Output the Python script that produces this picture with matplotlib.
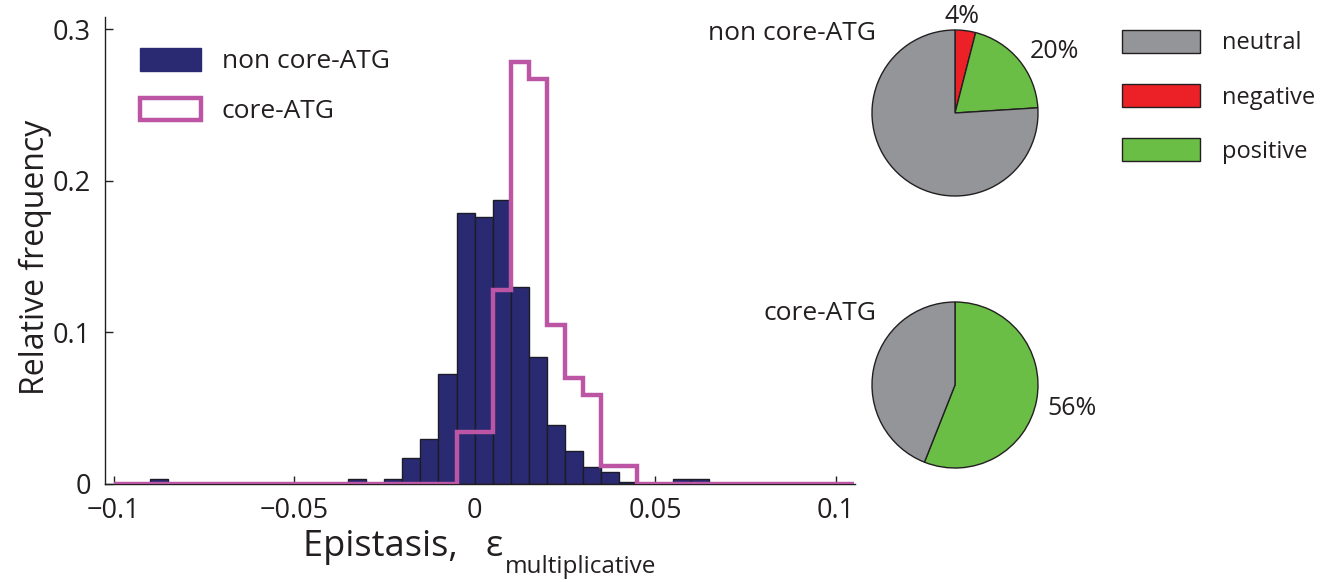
import numpy as np
import matplotlib
matplotlib.use("Agg")
import matplotlib.pyplot as plt
from matplotlib.patches import Patch

plt.rcParams['font.family'] = ['Open Sans', 'DejaVu Sans']

# ---------------- data ----------------
bin_width = 0.005
hist_range = (-0.1, 0.105)

# non core-ATG histogram: bin left edges and relative frequency
noncore_bin_left = [-0.090, -0.035, -0.025, -0.020, -0.015, -0.010, -0.005, 0.000,
                    0.005, 0.010, 0.015, 0.020, 0.025, 0.030, 0.035, 0.040,
                    0.055, 0.060]
noncore_freq = [0.003, 0.003, 0.003, 0.017, 0.030, 0.0725, 0.179, 0.176,
                0.187, 0.130, 0.084, 0.039, 0.022, 0.011, 0.008, 0.0015,
                0.003, 0.003]

# core-ATG histogram (outline): bin left edges and relative frequency
core_bin_left = [-0.005, 0.000, 0.005, 0.010, 0.015, 0.020, 0.025, 0.030, 0.035, 0.040]
core_freq = [0.034, 0.034, 0.128, 0.278, 0.267, 0.105, 0.070, 0.059, 0.012, 0.012]

xticks = [-0.1, -0.05, 0, 0.05, 0.1]
xtick_labels = ['\u22120.1', '\u22120.05', '0', '0.05', '0.1']
yticks = [0, 0.1, 0.2, 0.3]
ytick_labels = ['0', '0.1', '0.2', '0.3']

pie_categories = ['neutral', 'negative', 'positive']
pie_noncore = {'neutral': 76, 'negative': 4, 'positive': 20}
pie_core = {'neutral': 44, 'negative': 0, 'positive': 56}
pie_colors = {'neutral': '#939598', 'negative': '#ec2127', 'positive': '#6abd45'}

navy = '#2a2a72'
magenta = '#bd55a5'
ink = '#231f20'

# ---------------- figure ----------------
W, H = 1332, 582
fig = plt.figure(figsize=(W / 100, H / 100), dpi=100)

def px_axes(x0, y0, x1, y1):
    return fig.add_axes([x0 / W, 1 - y1 / H, (x1 - x0) / W, (y1 - y0) / H])

AX = (105, 17, 855, 484)
ax = px_axes(*AX)

def ax_frac(px, py):
    return ((px - AX[0]) / (AX[2] - AX[0]), (AX[3] - py) / (AX[3] - AX[1]))

# full stairs array over the whole range
edges = np.round(np.arange(hist_range[0], hist_range[1] + 1e-9, bin_width), 4)
core_full = np.zeros(len(edges) - 1)
for left, v in zip(core_bin_left, core_freq):
    idx = int(round((left - hist_range[0]) / bin_width))
    core_full[idx] = v

ax.bar(noncore_bin_left, noncore_freq, width=bin_width, align='edge',
       color=navy, edgecolor='#1c1c28', linewidth=1.0, zorder=2)
ax.stairs(core_full, edges, baseline=None, color=magenta, linewidth=3.2, zorder=3)

ax.set_xlim(-0.1024, 0.1054)
ax.set_ylim(0, 0.308)
ax.set_xticks(xticks)
ax.set_xticklabels(xtick_labels)
ax.set_yticks(yticks)
ax.set_yticklabels(ytick_labels)
ax.tick_params(direction='in', length=6, width=1, labelsize=19.5, colors=ink)
ax.tick_params(axis='x', pad=9)
ax.tick_params(axis='y', pad=10)
for s in ['top', 'right']:
    ax.spines[s].set_visible(False)
for s in ['left', 'bottom']:
    ax.spines[s].set_linewidth(1.0)
    ax.spines[s].set_color(ink)

ax.set_ylabel('Relative frequency', fontsize=23, color=ink)
ax.yaxis.set_label_coords(*ax_frac(52, 257))

lx, ly = ax_frac(303, 556)
t1 = ax.text(lx, ly, 'Epistasis,   \u03b5', transform=ax.transAxes,
             fontsize=26, color=ink, ha='left', va='baseline')
ax.annotate('multiplicative', xy=(1, 0), xycoords=t1, xytext=(1, -6),
            textcoords='offset points', fontsize=17.5, color=ink,
            ha='left', va='baseline')

leg = ax.legend(handles=[Patch(facecolor=navy, edgecolor=navy, label='non core-ATG'),
                         Patch(facecolor='white', edgecolor=magenta, linewidth=3.2,
                               label='core-ATG')],
                loc='upper left', bbox_to_anchor=ax_frac(140, 48), frameon=False,
                borderaxespad=0, borderpad=0,
                fontsize=19, handlelength=2.3, handleheight=0.95,
                handletextpad=0.8, labelspacing=0.88)
for t in leg.get_texts():
    t.set_color(ink)

# ---------------- pies ----------------
pie_order = ['negative', 'positive', 'neutral']

def draw_pie(box, data, title, title_xy):
    pax = px_axes(*box)
    cats = [c for c in pie_order if data[c] > 0]
    vals = [data[c] for c in cats]
    cols = [pie_colors[c] for c in cats]
    labels = ['' if c == 'neutral' else f'{data[c]}%' for c in cats]
    wedges, texts = pax.pie(vals, colors=cols, startangle=90, counterclock=False,
                            labels=labels, labeldistance=1.17,
                            wedgeprops=dict(edgecolor=ink, linewidth=1.0),
                            textprops=dict(fontsize=18, color=ink))
    pax.set_xlim(-1, 1)
    pax.set_ylim(-1, 1)
    for t in texts:
        t.set_clip_on(False)
        x, y = t.get_position()
        if abs(x) < 0.3:
            t.set_horizontalalignment('center')
            t.set_position((x - 0.06, y))
        elif y < 0:
            t.set_position((x - 0.04, y - 0.06))
    fig.text(title_xy[0] / W, 1 - title_xy[1] / H, title, fontsize=19,
             color=ink, ha='right', va='center')
    return wedges

draw_pie((872, 30, 1038, 196), pie_noncore, 'non core-ATG', (876, 33))
draw_pie((872, 302, 1038, 468), pie_core, 'core-ATG', (876, 313))

pleg = fig.legend(handles=[Patch(facecolor=pie_colors[c], edgecolor=ink,
                                 linewidth=1.0, label=c) for c in pie_categories],
                  loc='upper left', bbox_to_anchor=(1122 / W, 1 - 30 / H),
                  frameon=False, borderaxespad=0, borderpad=0,
                  fontsize=17, handlelength=3.3, handleheight=1.1,
                  handletextpad=0.93, labelspacing=1.22)
for t in pleg.get_texts():
    t.set_color(ink)

fig.savefig('out.png', dpi=100)
